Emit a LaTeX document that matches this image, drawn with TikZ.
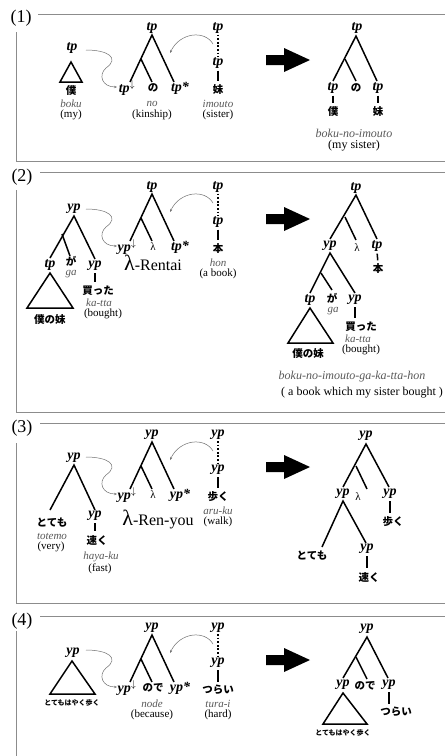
\documentclass[tikz,border=0pt]{standalone}
\usepackage{fontspec}
\setmainfont{Liberation Serif}
\newfontfamily\jp{Noto Sans CJK JP}
\usetikzlibrary{arrows.meta}
\newcommand{\JPt}[1]{{\jp\bfseries\fontsize{10.5}{10.5}\selectfont #1}}
\newcommand{\LAMs}{{\normalfont\fontsize{11}{11}\selectfont λ}}
\tikzset{
  cat/.style={inner sep=0pt, font=\fontsize{14}{14}\selectfont\bfseries\itshape},
  jpn/.style={inner sep=0.5pt, font=\jp\bfseries\fontsize{10.5}{10.5}\selectfont},
  jps/.style={inner sep=0pt, font=\jp\bfseries\fontsize{7}{7}\selectfont},
  rom/.style={inner sep=0pt, text=black!65, font=\fontsize{11}{11}\selectfont\itshape},
  roml/.style={inner sep=0pt, text=black!65, font=\fontsize{12}{12}\selectfont\itshape},
  gls/.style={inner sep=0pt, font=\fontsize{11}{11}\selectfont},
  sent/.style={inner sep=0pt, font=\fontsize{12}{12}\selectfont},
  lam/.style={inner sep=0pt, font=\fontsize{11}{11}\selectfont},
  bigl/.style={inner sep=0pt, font=\fontsize{16}{16}\selectfont},
  plabel/.style={inner sep=0pt, font=\fontsize{18}{18}\selectfont},
  tree/.style={line width=1.5pt},
  leaf/.style={line width=1.5pt, shorten <=2pt, shorten >=3pt},
  dotl/.style={line width=1.5pt, dash pattern=on 1.8pt off 1.8pt, shorten <=1pt, shorten >=1pt},
  frame/.style={draw=black!45, line width=0.8pt},
  link/.style={draw=black!55, line width=0.5pt, -{Stealth[length=3pt,width=2.4pt]}},
  tri/.style={line width=1.5pt, line join=miter},
}
% middle elementary tree, its two links and the big arrow
\newcommand{\MidTree}[6]{%
\begin{scope}[shift={(0,#2)}]
\node[cat] (M#1r) at (152,0) {#3};
\coordinate (M#1a) at (152,7);
\coordinate (M#1j) at (141,31);
\coordinate (M#1le) at (130,54);
\coordinate (M#1me) at (152,54);
\coordinate (M#1re) at (174,54);
\draw[tree] (M#1le) -- (M#1a) -- (M#1re);
\draw[tree] (M#1j) -- (M#1me);
\node[cat] (M#1l) at (127,60) {#4};
\node[inner sep=0pt] (M#1m) at (153,60) {#5};
\node[cat] (M#1x) at (180,60) {#6};
\coordinate (P#1s) at (86,22);
\coordinate (P#1e) at (117,59);
\draw[link] (P#1s) .. controls (108,22) and (120,30) .. (106,40) .. controls (98,47) and (102,59) .. (P#1e);
\coordinate (Q#1s) at (213,16);
\coordinate (Q#1e) at (170,25);
\draw[link] (Q#1s) .. controls (205,2) and (180,4) .. (Q#1e);
\fill (266,27) -- (284,27) -- (284,20) -- (310,32) -- (284,44) -- (284,37) -- (266,37) -- cycle;
\end{scope}}
% initial tree with dotted spine
\newcommand{\SrcTree}[6]{%
\begin{scope}[shift={(0,#2)}]
\node[cat] (S#1t) at (218,0) {#3};
\node[cat] (S#1b) at (218,35) {#3};
\node[jpn] (S#1w) at (218,62) {#4};
\node[rom] (S#1o) at (218,76) {#5};
\node[gls] (S#1g) at (218,87) {#6};
\draw[dotl] (S#1t.south) -- (S#1b.north);
\draw[leaf] (S#1b.south) -- (S#1w.north);
\end{scope}}
\begin{document}
\begin{tikzpicture}[x=1pt,y=-1pt]
\useasboundingbox (0,0) rectangle (445,756);
\fill[white] (0,0) rectangle (445,756);

% ---------------- frames ----------------
\node[plabel] (F1) at (21,18) {(1)};
\draw[frame] (38,14) -- (445,14);
\draw[frame] (16,32) -- (16,161) -- (445,161);
\node[plabel] (F2) at (22,177) {(2)};
\draw[frame] (40,172) -- (445,172);
\draw[frame] (16,190) -- (16,412) -- (445,412);
\node[plabel] (F3) at (22,428) {(3)};
\draw[frame] (40,423) -- (445,423);
\draw[frame] (16,443) -- (16,603) -- (445,603);
\node[plabel] (F4) at (22,621) {(4)};
\draw[frame] (40,616) -- (445,616);
\draw[frame] (16,631) -- (16,756);

% ================= panel 1 =================
\node[cat] (L1r) at (72,48) {tp};
\draw[tri] (71,62) -- (60,82) -- (82,82) -- cycle;
\node[jpn] (L1w) at (71,91) {僕};
\node[rom] (L1o) at (71,104) {boku};
\node[gls] (L1g) at (71,115) {(my)};

\MidTree{1}{28}{tp}{tp$^{\downarrow}$}{\JPt{の}}{tp*}
\node[rom] (M1o) at (152,104) {no};
\node[gls] (M1g) at (152,115) {(kinship)};
\SrcTree{1}{28}{tp}{妹}{imouto}{(sister)}

\node[cat] (R1r) at (357,28) {tp};
\coordinate (R1a) at (356,36);
\coordinate (R1j) at (345,59);
\coordinate (R1le) at (333,81);
\coordinate (R1me) at (356,81);
\coordinate (R1re) at (377,81);
\draw[tree] (R1le) -- (R1a) -- (R1re);
\draw[tree] (R1j) -- (R1me);
\node[cat] (R1l) at (333,88) {tp};
\node[jpn] (R1m) at (356,88) {の};
\node[cat] (R1x) at (378,88) {tp};
\node[jpn] (R1lw) at (333,112) {僕};
\node[jpn] (R1xw) at (378,112) {妹};
\draw[leaf] (R1l.south) -- (R1lw.north);
\draw[leaf] (R1x.south) -- (R1xw.north);
\node[roml] (R1o) at (354,133) {boku-no-imouto};
\node[sent] (R1g) at (354,146) {(my sister)};

% ================= panel 2 =================
\node[cat] (L2r) at (74,209) {yp};
\coordinate (L2ap) at (74,216);
\coordinate (L2j) at (62,234);
\coordinate (L2le) at (50,258);
\coordinate (L2me) at (70,256);
\coordinate (L2re) at (95,259);
\draw[tree] (L2le) -- (L2ap) -- (L2re);
\draw[tree] (L2j) -- (L2me);
\node[cat] (L2a) at (50,265) {tp};
\node[jpn] (L2b) at (71,261) {が};
\node[rom] (L2bo) at (71,274.5) {ga};
\node[cat] (L2c) at (95,266) {yp};
\draw[tri] (50,273) -- (27,308) -- (73,308) -- cycle;
\node[jpn] (L2aw) at (50,320) {僕の妹};
\node[jpn] (L2cw) at (98,291) {買った};
\draw[leaf] (L2c.south) -- (L2c.south |- L2cw.north);
\node[rom] (L2co) at (99,303) {ka-tta};
\node[gls] (L2cg) at (103,314) {(bought)};

\MidTree{2}{187}{tp}{yp$^{\downarrow}$}{\LAMs}{tp*}
\node[bigl] (M2n) at (153,263) {{\fontsize{22}{22}\selectfont λ}-Rentai};
\SrcTree{2}{187}{tp}{本}{hon}{(a book)}

\node[cat] (R2r) at (356,188) {tp};
\coordinate (R2ap) at (356,195);
\coordinate (R2j) at (345,217);
\coordinate (R2le) at (330,239);
\coordinate (R2me) at (356,240);
\coordinate (R2re) at (377,239);
\draw[tree] (R2le) -- (R2ap) -- (R2re);
\draw[tree] (R2j) -- (R2me);
\node[cat] (R2y) at (330,246) {yp};
\node[lam] (R2m) at (357,248) {λ};
\node[cat] (R2t) at (377,246) {tp};
\node[jpn] (R2tw) at (378,269) {本};
\draw[leaf] (R2t.south) -- (R2tw.north);
\coordinate (R2sa) at (330,253);
\coordinate (R2sj) at (321,273);
\coordinate (R2sle) at (310,293);
\coordinate (R2sme) at (332,290);
\coordinate (R2sre) at (355,293);
\draw[tree] (R2sle) -- (R2sa) -- (R2sre);
\draw[tree] (R2sj) -- (R2sme);
\node[cat] (R2a) at (310,300) {tp};
\node[jpn] (R2b) at (332,298) {が};
\node[rom] (R2bo) at (333,311.5) {ga};
\node[cat] (R2c) at (355,300) {yp};
\draw[tri] (310,308) -- (288,343) -- (333,343) -- cycle;
\node[jpn] (R2aw) at (308,354) {僕の妹};
\node[jpn] (R2cw) at (361,327) {買った};
\draw[leaf] (R2c.south) -- (R2c.south |- R2cw.north);
\node[rom] (R2co) at (358,339) {ka-tta};
\node[gls] (R2cg) at (361,350) {(bought)};
\node[roml] (R2o) at (352,377) {boku-no-imouto-ga-ka-tta-hon};
\node[sent] (R2g) at (362,393) {( a book which my sister bought )};

% ================= panel 3 =================
\node[cat] (L3r) at (74,458) {yp};
\coordinate (L3ap) at (74,465);
\coordinate (L3le) at (50,510);
\coordinate (L3re) at (95,510);
\draw[tree] (L3le) -- (L3ap) -- (L3re);
\node[jpn] (L3a) at (52,523) {とても};
\node[rom] (L3ao) at (52,536) {totemo};
\node[gls] (L3ag) at (51,547) {(very)};
\node[cat] (L3c) at (95,516) {yp};
\node[jpn] (L3cw) at (97,540) {速く};
\draw[leaf] (L3c.south) -- (L3c.south |- L3cw.north);
\node[rom] (L3co) at (101,557) {haya-ku};
\node[gls] (L3cg) at (100,569) {(fast)};

\MidTree{3}{435}{yp}{yp$^{\downarrow}$}{\LAMs}{yp*}
\node[bigl] (M3n) at (158,519) {{\fontsize{22}{22}\selectfont λ}-Ren-you};
\SrcTree{3}{435}{yp}{歩く}{aru-ku}{(walk)}

\node[cat] (R3r) at (366,436) {yp};
\coordinate (R3ap) at (366,444);
\coordinate (R3j) at (356,466);
\coordinate (R3le) at (343,487);
\coordinate (R3me) at (367,489);
\coordinate (R3re) at (389,487);
\draw[tree] (R3le) -- (R3ap) -- (R3re);
\draw[tree] (R3j) -- (R3me);
\node[cat] (R3y) at (343,494) {yp};
\node[lam] (R3m) at (358,497) {λ};
\node[cat] (R3z) at (390,494) {yp};
\node[jpn] (R3zw) at (393,522) {歩く};
\draw[leaf] (R3z.south) -- (R3z.south |- R3zw.north);
\coordinate (R3sa) at (343,501);
\coordinate (R3sle) at (322,547);
\coordinate (R3sre) at (366,543);
\draw[tree] (R3sle) -- (R3sa) -- (R3sre);
\node[jpn] (R3a) at (312,556) {とても};
\node[cat] (R3c) at (367,549) {yp};
\node[jpn] (R3cw) at (369,577) {速く};
\draw[leaf] (R3c.south) -- (R3c.south |- R3cw.north);

% ================= panel 4 =================
\node[cat] (L4r) at (73,653) {yp};
\draw[tri] (72,661) -- (50,694) -- (95,694) -- cycle;
\node[jps] (L4w) at (72,703) {とてもはやく歩く};

\MidTree{4}{628}{yp}{yp$^{\downarrow}$}{\JPt{ので}}{yp*}
\node[rom] (M4o) at (152,704) {node};
\node[gls] (M4g) at (152,715) {(because)};
\SrcTree{4}{628}{yp}{つらい}{tura-i}{(hard)}

\node[cat] (R4r) at (367,629) {yp};
\coordinate (R4ap) at (367,637);
\coordinate (R4j) at (356,657);
\coordinate (R4le) at (343,678);
\coordinate (R4me) at (367,679);
\coordinate (R4re) at (388,678);
\draw[tree] (R4le) -- (R4ap) -- (R4re);
\draw[tree] (R4j) -- (R4me);
\node[cat] (R4y) at (343,685) {yp};
\node[jpn] (R4m) at (365,686) {ので};
\node[cat] (R4z) at (389,685) {yp};
\node[jpn] (R4zw) at (396,712) {つらい};
\draw[leaf] (R4z.south) -- (R4z.south |- R4zw.north);
\draw[tri] (343,693) -- (323,724) -- (367,724) -- cycle;
\node[jps] (R4w) at (343,733) {とてもはやく歩く};
\end{tikzpicture}
\end{document}
